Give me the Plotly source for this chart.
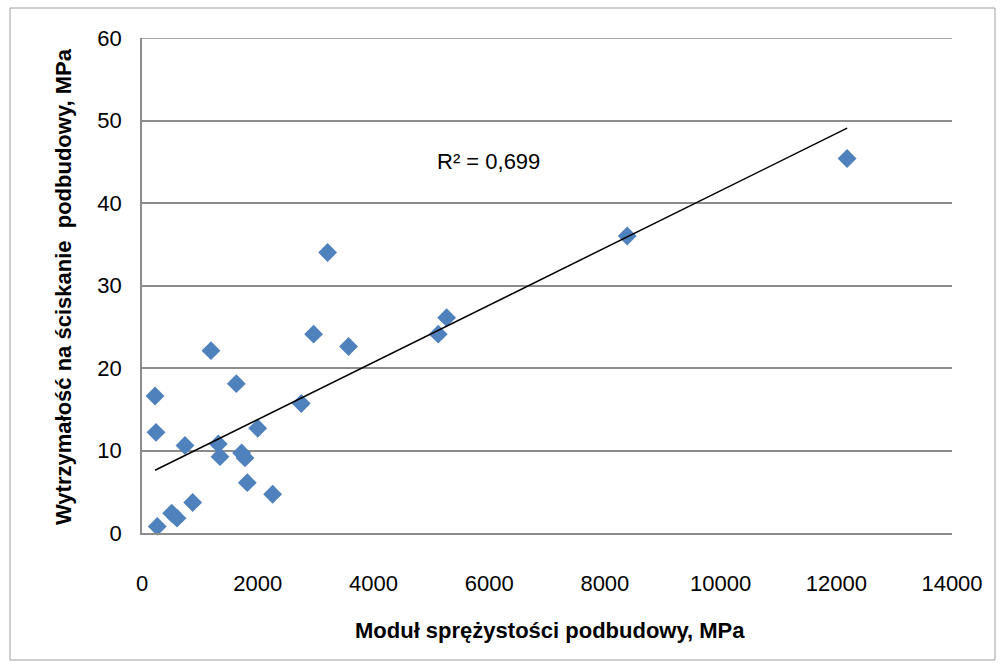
import numpy as np
import plotly.graph_objects as go

# Data
modul_mpa = [225, 242, 264, 513, 605, 743, 876, 1192, 1319, 1348, 1630, 1722, 1780,
             1820, 2000, 2258, 2753, 2966, 3208, 3570, 5120, 5265, 8386, 12187]
wytrzymalosc_mpa = [16.6, 12.2, 0.8, 2.4, 1.8, 10.6, 3.7, 22.1, 10.8, 9.25, 18.1, 9.7, 9.1,
                    6.1, 12.7, 4.7, 15.7, 24.1, 34.0, 22.6, 24.1, 26.1, 36.0, 45.4]
x_ticks = [0, 2000, 4000, 6000, 8000, 10000, 12000, 14000]
y_ticks = [0, 10, 20, 30, 40, 50, 60]
r2_label = "R² = 0,699"
x_title = "Moduł sprężystości podbudowy, MPa"
y_title = "Wytrzymałość na ściskanie \u00a0podbudowy, MPa"

x = np.array(modul_mpa, dtype=float)
y = np.array(wytrzymalosc_mpa, dtype=float)
slope, intercept = np.polyfit(x, y, 1)
tx = np.array([x.min(), x.max()])
ty = slope * tx + intercept

W, H = 1002, 666
L, R, T, B = 142, 50, 38, 133
pw, ph = W - L - R, H - T - B

def px_x(p):
    return (p - L) / pw

def px_y(p):
    return (H - B - p) / ph

FONT = "Liberation Sans"
GRID = "#8c8c8c"

fig = go.Figure()
fig.add_trace(go.Scatter(
    x=modul_mpa, y=wytrzymalosc_mpa, mode="markers",
    marker=dict(symbol="diamond", size=14.5, color="#4f81bd", line=dict(width=0)),
    cliponaxis=False, showlegend=False, hoverinfo="x+y"))
fig.add_trace(go.Scatter(
    x=tx, y=ty, mode="lines", line=dict(color="black", width=1.5),
    showlegend=False, hoverinfo="skip"))

fig.update_layout(
    width=W, height=H,
    margin=dict(l=L, r=R, t=T, b=B, pad=0),
    paper_bgcolor="white", plot_bgcolor="white",
    font=dict(family=FONT, size=22, color="black"),
    xaxis=dict(range=[0, 14000], tickvals=x_ticks, ticktext=[str(v) for v in x_ticks],
               showgrid=False, zeroline=False, showline=True, linecolor=GRID, linewidth=1.5,
               ticks="", ticklabelstandoff=30, tickfont=dict(size=22, family=FONT)),
    yaxis=dict(range=[0, 60], tickvals=y_ticks, ticktext=[str(v) for v in y_ticks],
               showgrid=True, gridcolor=GRID, gridwidth=1.5, zeroline=False,
               showline=True, linecolor=GRID, linewidth=1.5,
               ticks="", ticklabelstandoff=14, tickfont=dict(size=22, family=FONT)),
    shapes=[
        dict(type="rect", xref="paper", yref="paper",
             x0=px_x(10), x1=px_x(995), y0=px_y(660), y1=px_y(8),
             line=dict(color="#a0a0a0", width=1), fillcolor="rgba(0,0,0,0)", layer="below"),
        dict(type="line", xref="paper", yref="y", x0=0, x1=1, y0=60, y1=60,
             line=dict(color=GRID, width=1.5), layer="below"),
    ],
    annotations=[
        dict(text="<b>" + x_title + "</b>", xref="paper", yref="paper",
             x=px_x(550), y=px_y(630), showarrow=False,
             font=dict(size=22, family=FONT, color="black"), xanchor="center", yanchor="middle"),
        dict(text="<b>" + y_title + "</b>", xref="paper", yref="paper",
             x=px_x(63), y=px_y(287), showarrow=False, textangle=-90,
             font=dict(size=22, family=FONT, color="black"), xanchor="center", yanchor="middle"),
        dict(text=r2_label, xref="paper", yref="paper",
             x=px_x(488), y=px_y(162), showarrow=False,
             font=dict(size=22, family=FONT, color="black"), xanchor="center", yanchor="middle"),
    ],
)

print(slope, intercept, np.corrcoef(x, y)[0, 1] ** 2)
fig.write_html("out.html")
